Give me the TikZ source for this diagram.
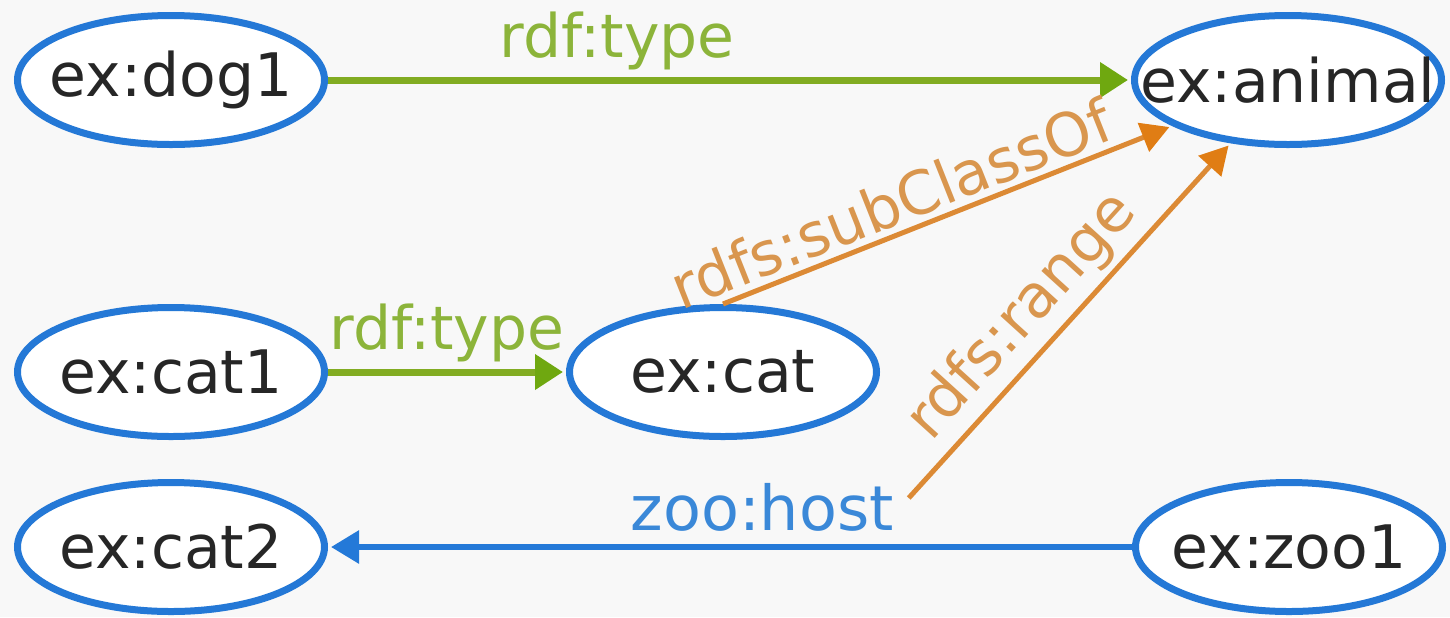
\documentclass[tikz,border=0pt]{standalone}
\usepackage{fontspec}
\setmainfont{DejaVu Sans}
\usetikzlibrary{arrows.meta,shapes.geometric}
\definecolor{bg}{HTML}{F8F8F8}
\definecolor{nodeblue}{HTML}{2478D6}
\definecolor{edgegreen}{HTML}{82AC22}
\definecolor{tipgreen}{HTML}{6FA810}
\definecolor{txtgreen}{HTML}{8CB43A}
\definecolor{edgeorange}{HTML}{DC8A35}
\definecolor{tiporange}{HTML}{E07D14}
\definecolor{txtorange}{HTML}{D9964E}
\definecolor{edgeblue}{HTML}{2479D8}
\definecolor{txtblue}{HTML}{3A88D8}
\begin{document}
\begin{tikzpicture}[x=0.5pt,y=-0.5pt,
  res/.style={ellipse, draw=nodeblue, fill=white, line width=3.5pt,
    minimum width=153.5pt, minimum height=64.5pt, inner sep=0pt,
    font=\fontsize{30}{36}\selectfont, text=black!85},
  lbl/.style={font=\fontsize{30}{36}\selectfont, inner sep=4pt},
  greenedge/.style={draw=edgegreen, line width=3.5pt, shorten >=1.5pt,
    -{Triangle[length=14pt,width=17pt,color=tipgreen]}},
  orangeedge/.style={draw=edgeorange, line width=2.5pt, shorten >=1.5pt,
    -{Triangle[length=14pt,width=15pt,color=tiporange]}},
  blueedge/.style={draw=edgeblue, line width=3pt, shorten >=1.5pt,
    -{Triangle[length=14pt,width=16pt,color=edgeblue]}},
  glabel/.style={lbl, text=txtgreen, inner sep=3.5pt},
  olabel/.style={lbl, text=txtorange, inner sep=3pt},
  blabel/.style={lbl, text=txtblue, font=\fontsize{31}{36}\selectfont}
]
\fill[bg] (0,0) rectangle (1450,617);
\useasboundingbox (0,0) rectangle (1450,617);

\node[res] (dog1)   at (171,80)   {\makebox[0pt]{ex:dog1}};
\node[res] (animal) at (1288,80)  {\makebox[0pt]{ex:animal}};
\node[res] (cat1)   at (171,372)  {\makebox[0pt]{ex:cat1}};
\node[res] (cat)    at (723,372)  {\makebox[0pt]{ex:cat}};
\node[res] (cat2)   at (171,547)  {\makebox[0pt]{ex:cat2}};
\node[res] (zoo1)   at (1289,547) {\makebox[0pt]{ex:zoo1}};

\draw[greenedge] (dog1) -- node[glabel, pos=0.36, above] {rdf:type} (animal);
\draw[greenedge] (cat1) -- node[glabel, pos=0.5, above] {rdf:type} (cat);
\draw[blueedge] (zoo1) -- node[blabel, pos=0.46, above=2.5pt] (hostlbl) {zoo:host} (cat2);
\coordinate (rangestart) at ([shift={(2pt,-13pt)}]hostlbl.north east);
\draw[orangeedge] (cat.north) -- node[olabel, pos=0.40, above, sloped] {rdfs:subClassOf} (animal);
\draw[orangeedge] (rangestart) -- node[olabel, pos=0.44, above, sloped] {rdfs:range} (animal);
\end{tikzpicture}
\end{document}
